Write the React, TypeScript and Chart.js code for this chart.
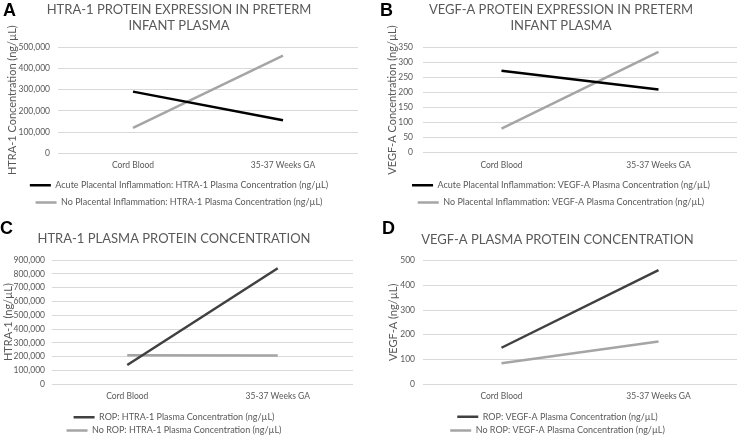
import React, { useEffect, useRef } from "react";
import { Chart, registerables } from "chart.js";

Chart.register(...registerables);

// ---- data ----
const categories = ["Cord Blood", "35-37 Weeks GA"];

const titleA = ["HTRA-1 PROTEIN EXPRESSION IN PRETERM", "INFANT PLASMA"];
const titleB = ["VEGF-A PROTEIN EXPRESSION IN PRETERM", "INFANT PLASMA"];
const titleC = "HTRA-1 PLASMA PROTEIN CONCENTRATION";
const titleD = "VEGF-A PLASMA PROTEIN CONCENTRATION";

const htraAcute = [290000, 155000];
const htraNoInflammation = [120000, 460000];
const vegfAcute = [272, 210];
const vegfNoInflammation = [80, 335];
const htraRop = [140000, 840000];
const htraNoRop = [210000, 208000];
const vegfRop = [147, 462];
const vegfNoRop = [84, 172];

const labelHtraAcute = "Acute Placental Inflammation: HTRA-1 Plasma Concentration (ng/µL)";
const labelHtraNoInfl = "No Placental Inflammation: HTRA-1 Plasma Concentration (ng/µL)";
const labelVegfAcute = "Acute Placental Inflammation: VEGF-A Plasma Concentration (ng/µL)";
const labelVegfNoInfl = "No Placental Inflammation: VEGF-A Plasma Concentration (ng/µL)";
const labelHtraRop = "ROP: HTRA-1 Plasma Concentration (ng/µL)";
const labelHtraNoRop = "No ROP: HTRA-1 Plasma Concentration (ng/µL)";
const labelVegfRop = "ROP: VEGF-A Plasma Concentration (ng/µL)";
const labelVegfNoRop = "No ROP: VEGF-A Plasma Concentration (ng/µL)";

const FONT = "Lato, 'Noto Sans', sans-serif";
const TEXT = "#595959";
const GRID = "#d9d9d9";

type Series = { label: string; data: number[]; color: string };

type PanelProps = {
  x: number;
  y: number;
  w: number;
  h: number;
  title: string | string[];
  titlePadTop: number;
  titlePadBottom: number;
  yTitle: string;
  yTitlePad: number;
  yAxisW: number;
  yTickPad: number;
  yMax: number;
  yStep: number;
  xAxisH: number;
  xTickPad: number;
  legendPad: number;
  series: Series[];
};

function Panel(p: PanelProps) {
  const ref = useRef<HTMLCanvasElement>(null);
  useEffect(() => {
    const chart = new Chart(ref.current!, {
      type: "line",
      data: {
        labels: categories,
        datasets: p.series.map((s) => ({
          label: s.label,
          data: s.data,
          borderColor: s.color,
          backgroundColor: s.color,
          borderWidth: 2.5,
          pointRadius: 0,
          pointHoverRadius: 0,
          fill: false,
          tension: 0,
        })),
      },
      options: {
        responsive: false,
        maintainAspectRatio: false,
        animation: false,
        layout: { padding: 0 },
        plugins: {
          title: {
            display: true,
            text: p.title,
            color: TEXT,
            font: { family: FONT, size: 13, weight: "normal", lineHeight: 1.25 },
            padding: { top: p.titlePadTop, bottom: p.titlePadBottom },
          },
          legend: {
            position: "bottom",
            labels: {
              usePointStyle: true,
              pointStyle: "line",
              pointStyleWidth: 21,
              color: TEXT,
              font: { family: FONT, size: 9 },
              padding: p.legendPad,
            },
          },
          tooltip: { enabled: false },
        },
        scales: {
          x: {
            offset: true,
            grid: { display: false, drawTicks: false },
            border: { display: false },
            ticks: { color: TEXT, font: { family: FONT, size: 8.5 }, padding: p.xTickPad },
            afterFit: (s: any) => {
              s.height = p.xAxisH;
            },
          },
          y: {
            min: 0,
            max: p.yMax,
            grid: { color: GRID, lineWidth: 1, drawTicks: false },
            border: { display: false },
            ticks: {
              stepSize: p.yStep,
              autoSkip: false,
              color: TEXT,
              font: { family: FONT, size: 8.5 },
              padding: p.yTickPad,
              callback: (v: any) => Number(v).toLocaleString("en-US"),
            },
            title: {
              display: true,
              text: p.yTitle,
              color: TEXT,
              font: { family: FONT, size: 11 },
              padding: { top: p.yTitlePad, bottom: 0 },
            },
            afterFit: (s: any) => {
              s.width = p.yAxisW;
            },
          },
        },
      },
    });
    return () => chart.destroy();
  }, []);
  return (
    <canvas
      ref={ref}
      width={p.w}
      height={p.h}
      style={{ position: "absolute", left: p.x, top: p.y, width: p.w, height: p.h }}
    />
  );
}

const letterStyle = (left: number, top: number): React.CSSProperties => ({
  position: "absolute",
  left,
  top,
  fontFamily: "'Liberation Sans', Arial, sans-serif",
  fontWeight: "bold",
  fontSize: 18,
  lineHeight: "18px",
  color: "#000",
  zIndex: 2,
});

export default function App() {
  return (
    <div
      style={{
        position: "absolute",
        left: 0,
        top: 0,
        width: 740,
        height: 441,
        background: "#fff",
        overflow: "hidden",
      }}
    >
      <Panel
        x={0}
        y={0}
        w={358}
        h={217}
        title={titleA}
        titlePadTop={1.9}
        titlePadBottom={12.6}
        yTitle="HTRA-1 Concentration (ng/µL)"
        yTitlePad={5.4}
        yAxisW={58}
        yTickPad={8}
        yMax={500000}
        yStep={100000}
        xAxisH={19.1}
        xTickPad={6.6}
        legendPad={8.3}
        series={[
          { label: labelHtraAcute, data: htraAcute, color: "#000000" },
          { label: labelHtraNoInfl, data: htraNoInflammation, color: "#a5a5a5" },
        ]}
      />
      <Panel
        x={385}
        y={0}
        w={352}
        h={217}
        title={titleB}
        titlePadTop={1.9}
        titlePadBottom={12.9}
        yTitle="VEGF-A Concentration (ng/µL)"
        yTitlePad={0.4}
        yAxisW={38}
        yTickPad={10}
        yMax={350}
        yStep={50}
        xAxisH={19.7}
        xTickPad={7.2}
        legendPad={8.3}
        series={[
          { label: labelVegfAcute, data: vegfAcute, color: "#000000" },
          { label: labelVegfNoInfl, data: vegfNoInflammation, color: "#a5a5a5" },
        ]}
      />
      <Panel
        x={-5}
        y={220}
        w={358}
        h={225}
        title={titleC}
        titlePadTop={10.2}
        titlePadBottom={13.55}
        yTitle="HTRA-1 (ng/µL)"
        yTitlePad={7}
        yAxisW={57}
        yTickPad={7}
        yMax={900000}
        yStep={100000}
        xAxisH={24.1}
        xTickPad={7.3}
        legendPad={4.3}
        series={[
          { label: labelHtraRop, data: htraRop, color: "#404040" },
          { label: labelHtraNoRop, data: htraNoRop, color: "#a5a5a5" },
        ]}
      />
      <Panel
        x={378}
        y={220}
        w={359}
        h={225}
        title={titleD}
        titlePadTop={11.9}
        titlePadBottom={12.55}
        yTitle="VEGF-A (ng/µL)"
        yTitlePad={8.7}
        yAxisW={45}
        yTickPad={8}
        yMax={500}
        yStep={100}
        xAxisH={23.6}
        xTickPad={7.6}
        legendPad={4.7}
        series={[
          { label: labelVegfRop, data: vegfRop, color: "#404040" },
          { label: labelVegfNoRop, data: vegfNoRop, color: "#a5a5a5" },
        ]}
      />
      <div style={letterStyle(3, 1)}>A</div>
      <div style={letterStyle(380, 1)}>B</div>
      <div style={letterStyle(0, 219)}>C</div>
      <div style={letterStyle(382, 219)}>D</div>
    </div>
  );
}
